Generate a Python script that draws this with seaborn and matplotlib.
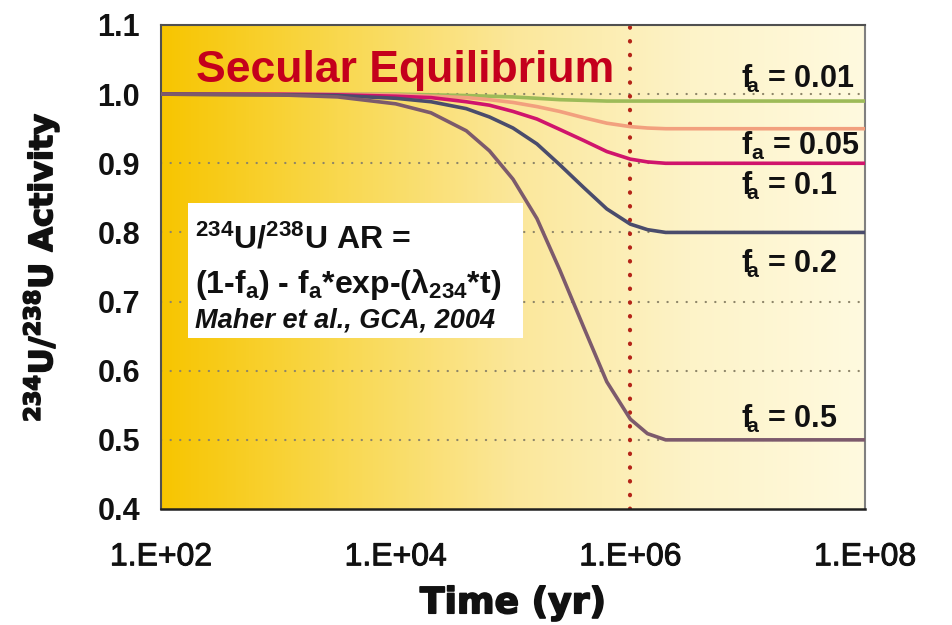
import numpy as np
import pandas as pd
import matplotlib
matplotlib.use("Agg")
import matplotlib.pyplot as plt
import matplotlib.patheffects as pe
from matplotlib.colors import LinearSegmentedColormap
from matplotlib.patches import Rectangle
import seaborn as sns

# ---- data -------------------------------------------------------------
time_yr = [1e2, 1e3, 3.2e3, 1e4, 2e4, 4e4, 6.3e4, 1e5, 1.6e5, 2.5e5,
           4e5, 6.3e5, 1e6, 1.4e6, 2e6, 1e7, 1e8]
ar_fa_001 = [1.000, 1.000, 1.000, 1.000, 0.999, 0.998, 0.997, 0.996, 0.994,
             0.992, 0.991, 0.990, 0.990, 0.990, 0.990, 0.990, 0.990]
ar_fa_005 = [1.000, 1.000, 1.000, 0.999, 0.997, 0.995, 0.992, 0.988, 0.982,
             0.975, 0.966, 0.958, 0.953, 0.951, 0.950, 0.950, 0.950]
ar_fa_01 = [1.000, 1.000, 0.999, 0.997, 0.995, 0.989, 0.984, 0.975, 0.964,
            0.949, 0.933, 0.917, 0.906, 0.902, 0.900, 0.900, 0.900]
ar_fa_02 = [1.000, 0.999, 0.998, 0.994, 0.989, 0.979, 0.967, 0.951, 0.928,
            0.898, 0.865, 0.834, 0.812, 0.804, 0.800, 0.800, 0.800]
ar_fa_05 = [1.000, 0.999, 0.996, 0.986, 0.973, 0.947, 0.918, 0.877, 0.820,
            0.746, 0.663, 0.584, 0.530, 0.509, 0.500, 0.500, 0.500]

fa_values = ["0.01", "0.05", "0.1", "0.2", "0.5"]
series = [ar_fa_001, ar_fa_005, ar_fa_01, ar_fa_02, ar_fa_05]
line_colors = ["#9DBB58", "#F2A07E", "#D0146C", "#4A4C6C", "#7C5A6C"]
label_y = [1.009, 0.912, 0.855, 0.742, 0.518]

x_ticks = [1e2, 1e4, 1e6, 1e8]
x_tick_labels = ["1.E+02", "1.E+04", "1.E+06", "1.E+08"]
y_ticks = [0.4, 0.5, 0.6, 0.7, 0.8, 0.9, 1.0, 1.1]

df = pd.DataFrame({
    "time": np.tile(time_yr, len(fa_values)),
    "ar": np.concatenate(series),
    "fa": np.repeat(fa_values, len(time_yr)),
})

# ---- style ------------------------------------------------------------
sns.set_theme(style="white")
plt.rcParams["font.family"] = ["Liberation Sans", "DejaVu Sans"]
plt.rcParams["mathtext.default"] = "regular"

fig = plt.figure(figsize=(9.52, 6.25), dpi=100)
pos = [161 / 952, 116 / 625, 704 / 952, 484 / 625]

# background gradient panel
bg = fig.add_axes(pos, zorder=0)
cmap = LinearSegmentedColormap.from_list(
    "gold", ["#F7C500", "#F9D84E", "#FBE79A", "#FDF3C8", "#FFFADF"])
bg.imshow(np.linspace(0, 1, 512)[None, :], aspect="auto", cmap=cmap,
          extent=[0, 1, 0, 1])
bg.set_axis_off()

ax = fig.add_axes(pos, zorder=1)
ax.patch.set_alpha(0)

sns.lineplot(data=df, x="time", y="ar", hue="fa", hue_order=fa_values,
             palette=dict(zip(fa_values, line_colors)), linewidth=2.6,
             legend=False, ax=ax, zorder=3)

ax.set_xscale("log")
ax.set_xlim(1e2, 1e8)
ax.set_ylim(0.4, 1.1)

# dotted gridlines and secular-equilibrium marker
for yv in [0.5, 0.6, 0.7, 0.8, 0.9, 1.0]:
    ax.axhline(yv, color="#8C8468", lw=1.6, ls=(0, (0.1, 4.2)),
               dash_capstyle="round", zorder=1)
ax.axvline(1e6, color="#B42418", lw=3.0, ls=(0, (0.1, 3.2)),
           dash_capstyle="round", zorder=2)

ax.set_xticks(x_ticks)
ax.set_xticklabels(x_tick_labels)
ax.xaxis.set_minor_locator(matplotlib.ticker.NullLocator())
ax.set_yticks(y_ticks)
ax.set_yticklabels([f"{v:.1f}" for v in y_ticks])

xtick_fx = [pe.withStroke(linewidth=0.7, foreground="#111111")]
for lab in ax.get_xticklabels():
    lab.set_fontsize(23)
    lab.set_color("#111111")
    lab.set_path_effects(xtick_fx)
for lab in ax.get_yticklabels():
    lab.set_fontweight("bold")
    lab.set_fontsize(22)
    lab.set_color("#111111")

ax.tick_params(axis="x", direction="out", length=7, width=1, color="#808080", pad=17)
ax.tick_params(axis="y", direction="out", length=7, width=1, color="#808080", pad=8)

for side in ["left", "top"]:
    ax.spines[side].set_color("#505050")
    ax.spines[side].set_linewidth(1.5)
ax.spines["bottom"].set_color("#202020")
ax.spines["bottom"].set_linewidth(1.8)
ax.spines["right"].set_color("#808080")
ax.spines["right"].set_linewidth(1.5)

heavy = [pe.withStroke(linewidth=1.2, foreground="#111111")]
ax.set_xlabel("Time (yr)", fontsize=26, fontweight="bold", family="DejaVu Sans",
              color="#111111", labelpad=10, path_effects=heavy)
ax.set_ylabel(r"$^{234}$U/$^{238}$U Activity", fontsize=23, fontweight="bold",
              family="DejaVu Sans", color="#111111", labelpad=26, path_effects=heavy)

# title inside the panel
ax.text(0.05, 0.905, "Secular Equilibrium", transform=ax.transAxes,
        fontsize=32, fontweight="bold", color="#C4001C", va="center", ha="left")

# curve labels
for fa, yv in zip(fa_values, label_y):
    sym = "f$_a$" if fa == "0.05" else r"f$\!_a$"
    ax.text(8.8e6, yv, f"{sym} = {fa}", fontsize=22, fontweight="bold",
            color="#111111", va="baseline", ha="left", zorder=4)

# equation box
ax.add_patch(Rectangle((0.038, 0.353), 0.476, 0.279, transform=ax.transAxes,
                       facecolor="white", edgecolor="none", zorder=5))
ax.text(0.048, 0.539, "$^{234}$U/$^{238}$U AR =", transform=ax.transAxes,
        fontsize=23, fontweight="bold", color="#111111",
        va="baseline", ha="left", zorder=6)
ax.text(0.048, 0.446, "(1-f$_a$) - f$_a$*exp-(λ$_{234}$*t)", transform=ax.transAxes,
        fontsize=23, fontweight="bold", color="#111111",
        va="baseline", ha="left", zorder=6)
ax.text(0.048, 0.374, "Maher et al., GCA, 2004", transform=ax.transAxes,
        fontsize=19.5, fontweight="bold", style="italic", color="#111111",
        va="baseline", ha="left", zorder=6)

fig.savefig("out.png", dpi=100)
